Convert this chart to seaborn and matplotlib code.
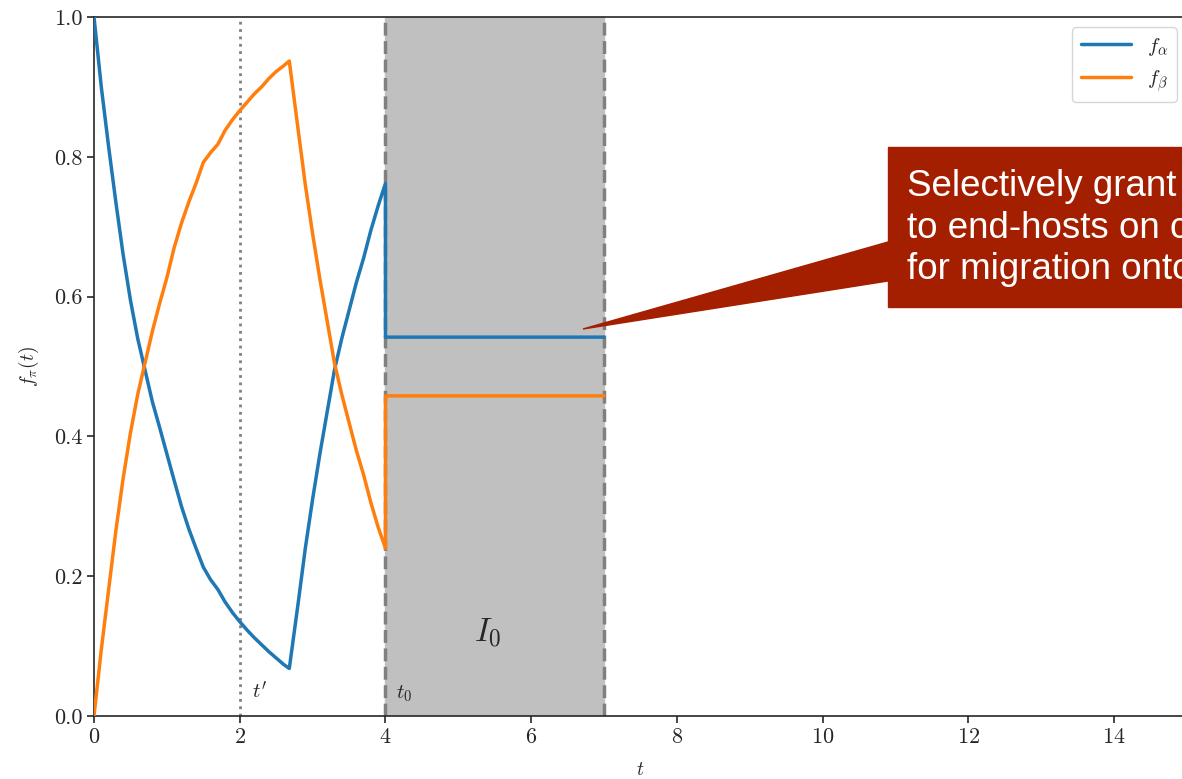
import numpy as np
import pandas as pd
import matplotlib
matplotlib.use("Agg")
import matplotlib.pyplot as plt
import seaborn as sns
from matplotlib.patches import Polygon, Rectangle

# Data
t = [0.0, 0.1, 0.2, 0.3, 0.4, 0.5, 0.6, 0.7, 0.8, 0.9,
     1.0, 1.1, 1.2, 1.3, 1.4, 1.5, 1.6, 1.7, 1.8, 1.9,
     2.0, 2.1, 2.2, 2.3, 2.4, 2.5, 2.6, 2.68,
     2.8, 2.9, 3.0, 3.1, 3.2, 3.3, 3.4, 3.5, 3.6, 3.7, 3.8, 3.9,
     4.0, 4.0, 7.0]
f_alpha = [1.0, 0.90, 0.815, 0.735, 0.66, 0.595, 0.54, 0.495, 0.45, 0.413,
           0.375, 0.337, 0.30, 0.268, 0.24, 0.213, 0.195, 0.181, 0.163, 0.148,
           0.135, 0.123, 0.112, 0.102, 0.092, 0.083, 0.074, 0.068,
           0.16, 0.24, 0.31, 0.375, 0.435, 0.495, 0.54, 0.58, 0.62, 0.655, 0.695, 0.73,
           0.762, 0.542, 0.542]
f_beta = [0.0, 0.095, 0.18, 0.265, 0.34, 0.405, 0.46, 0.505, 0.55, 0.59,
          0.627, 0.67, 0.705, 0.735, 0.762, 0.792, 0.806, 0.818, 0.838, 0.853,
          0.866, 0.878, 0.89, 0.90, 0.912, 0.922, 0.93, 0.937,
          0.84, 0.76, 0.69, 0.625, 0.565, 0.505, 0.46, 0.42, 0.38, 0.345, 0.305, 0.27,
          0.24, 0.458, 0.458]
series_names = [r"$f_\alpha$", r"$f_\beta$"]
t_prime = 2.0
t_zero = 4.0
t_end = 7.0

df = pd.concat([
    pd.DataFrame({"t": t, "f": f_alpha, "series": series_names[0]}),
    pd.DataFrame({"t": t, "f": f_beta, "series": series_names[1]}),
])

sns.set_style("ticks")
plt.rcParams["font.family"] = "serif"
plt.rcParams["font.serif"] = ["cmr10", "DejaVu Serif"]
plt.rcParams["mathtext.fontset"] = "cm"
plt.rcParams["axes.formatter.use_mathtext"] = True

fig = plt.figure(figsize=(11.82, 7.79), dpi=100)
ax = fig.add_axes([94 / 1182, 63 / 779, (1187 - 94) / 1182, (716 - 17) / 779])

ax.axvspan(t_zero, t_end, color="#c0c0c0", zorder=0)
ax.axvline(t_prime, color="grey", linestyle=":", linewidth=2, zorder=1)
ax.axvline(t_zero, color="grey", linestyle="--", linewidth=2.5, zorder=1)
ax.axvline(t_end, color="grey", linestyle="--", linewidth=2.5, zorder=1)

sns.lineplot(data=df, x="t", y="f", hue="series", units="series", estimator=None,
             sort=False, palette=["#1f77b4", "#ff7f0e"], linewidth=2.5, ax=ax, zorder=3)

ax.set_xlim(0, 15)
ax.set_ylim(0, 1)
ax.set_xticks(np.arange(0, 15, 2))
ax.set_yticks(np.arange(0, 1.01, 0.2))
ax.set_yticklabels([f"{v:.1f}" for v in np.arange(0, 1.01, 0.2)])
ax.tick_params(labelsize=16, length=5, width=1.2, direction="out")
for s in ax.spines.values():
    s.set_linewidth(1.2)
ax.set_xlabel(r"$t$", fontsize=14, labelpad=10)
ax.set_ylabel(r"$f_\pi(t)$", fontsize=14, labelpad=9)

ax.text(2.17, 0.025, r"$t'$", fontsize=15)
ax.text(4.15, 0.025, r"$t_0$", fontsize=15)
ax.text(5.4, 0.12, r"$I_0$", fontsize=24, ha="center", va="center")

leg = ax.legend(loc="upper right", fontsize=15, handlelength=2.4, title=None)

# callout box
red = "#a41e00"
fig.patches.append(Rectangle((888 / 1182, 1 - 307 / 779), 0.3, 160 / 779,
                             transform=fig.transFigure, color=red, zorder=10))
fig.patches.append(Polygon([(888 / 1182, 1 - 242 / 779), (583 / 1182, 1 - 329 / 779),
                            (888 / 1182, 1 - 281 / 779)],
                           closed=True, transform=fig.transFigure, color=red, zorder=10))
fig.text(907 / 1182, 1 - 228 / 779,
         "Selectively grant\nto end-hosts on c\nfor migration onto",
         color="white", fontsize=26.5, family="Liberation Sans", ha="left", va="center",
         linespacing=1.25, zorder=11)

fig.savefig("out.png", dpi=100)
